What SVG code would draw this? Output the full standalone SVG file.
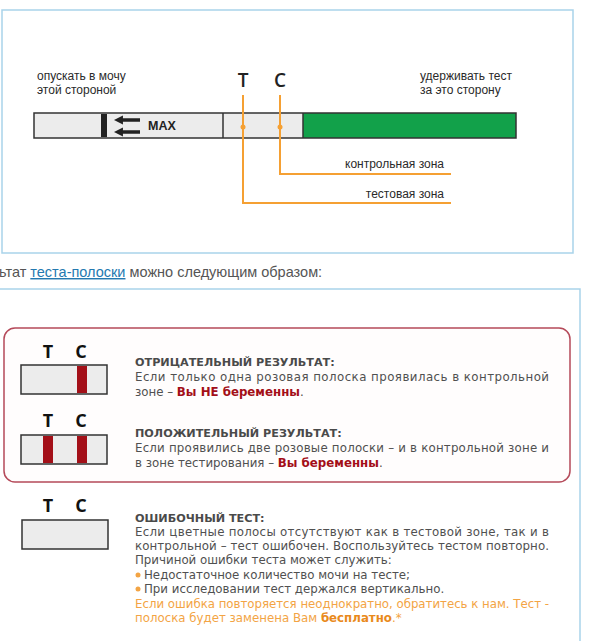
<svg xmlns="http://www.w3.org/2000/svg" width="596" height="641" viewBox="0 0 596 641">
<defs>
<style>
.frame{fill:none;stroke:#a9d3ea;stroke-width:1.5}
.lbl{font-family:"Liberation Sans Narrow","Liberation Sans",Arial,sans-serif;font-size:12px;fill:#2a2a2a}
.tc{font-family:"Open Sans","Liberation Sans",sans-serif;font-size:19px;font-weight:600;fill:#222}
.tc2{font-family:"Open Sans","Liberation Sans",sans-serif;font-size:18px;font-weight:700;fill:#111}
.or{fill:none;stroke:#f5a033;stroke-width:2}
.strip{fill:#ececec;stroke:#333;stroke-width:1.5}
.bar{fill:#a30f18}
.body{font-family:"DejaVu Sans",Verdana,sans-serif;font-size:11.8px;fill:#505050}
.ttl{font-family:"DejaVu Sans",Verdana,sans-serif;font-size:11.2px;font-weight:bold;fill:#4a4a4a}
.red{font-weight:bold;fill:#a30f18}
.org{fill:#f3a444}
.cap{font-family:Arial,"Liberation Sans",sans-serif;font-size:14.5px;fill:#555}
</style>
<marker id="ah" viewBox="0 0 10 10" refX="1" refY="5" markerWidth="2.6" markerHeight="2.6" orient="auto-start-reverse">
<path d="M0,0 L10,5 L0,10 z" fill="#222"/>
</marker>
</defs>

<!-- top panel -->
<g id="top-panel">
<rect class="frame" x="2" y="10" width="571" height="243"/>
</g>

<g id="label-dip">
<text class="lbl" x="37" y="80">опускать в мочу</text>
<text class="lbl" x="37" y="94">этой стороной</text>
</g>
<g id="label-hold">
<text class="lbl" x="420" y="80">удерживать тест</text>
<text class="lbl" x="420" y="94">за это сторону</text>
</g>
<g id="label-TC">
<text class="tc" x="243" y="87" text-anchor="middle">T</text>
<text class="tc" x="280" y="87" text-anchor="middle">C</text>
</g>

<g id="strip">
<rect x="34" y="113" width="269" height="25" fill="#ececec"/>
<rect x="303" y="113" width="213" height="25" fill="#12a14a"/>
<rect x="34" y="113" width="482" height="25" fill="none" stroke="#333" stroke-width="1.5"/>
<line x1="223" y1="113" x2="223" y2="138" stroke="#333" stroke-width="1.5"/>
<line x1="303" y1="113" x2="303" y2="138" stroke="#333" stroke-width="1.5"/>
<rect x="101" y="114" width="6" height="23" fill="#222"/>
<line x1="140" y1="120" x2="122" y2="120" stroke="#222" stroke-width="3.5" marker-end="url(#ah)"/>
<line x1="140" y1="132" x2="122" y2="132" stroke="#222" stroke-width="3.5" marker-end="url(#ah)"/>
<text x="148" y="130" font-family="'Liberation Sans',Arial,sans-serif" font-size="12.5" font-weight="bold" fill="#222">MAX</text>
</g>

<g id="connectors">
<path class="or" d="M243,95 V203 H451"/>
<path class="or" d="M280,95 V174 H451"/>
<circle cx="243" cy="127" r="2.5" fill="#f5a033"/>
<circle cx="280" cy="127" r="2.5" fill="#f5a033"/>
</g>
<g id="label-control">
<text class="lbl" x="444" y="168" text-anchor="end">контрольная зона</text>
</g>
<g id="label-test">
<text class="lbl" x="444" y="198" text-anchor="end">тестовая зона</text>
</g>

<!-- caption -->
<g id="caption">
<text class="cap" x="-1" y="277">ьтат <tspan fill="#2479b0" text-decoration="underline">теста-полоски</tspan> можно следующим образом:</text>
</g>

<!-- bottom panel -->
<g id="bottom-panel">
<rect class="frame" x="-2" y="289" width="582" height="360"/>
<rect x="4" y="328" width="566" height="154" rx="11" fill="#fffdfd" stroke="#b54a5a" stroke-width="1.5"/>
</g>

<g id="negative">
<text class="tc2" x="48" y="358" text-anchor="middle">T</text>
<text class="tc2" x="81" y="358" text-anchor="middle">C</text>
<rect class="strip" x="21" y="365" width="86" height="29"/>
<rect class="bar" x="77" y="366" width="10" height="27"/>
<text class="ttl" x="135" y="366">ОТРИЦАТЕЛЬНЫЙ РЕЗУЛЬТАТ:</text>
<text class="body" x="135" y="381" textLength="414" lengthAdjust="spacing">Если только одна розовая полоска проявилась в контрольной</text>
<text class="body" x="135" y="396">зоне – <tspan class="red">Вы НЕ беременны</tspan>.</text>
</g>

<g id="positive">
<text class="tc2" x="48" y="427" text-anchor="middle">T</text>
<text class="tc2" x="81" y="427" text-anchor="middle">C</text>
<rect class="strip" x="21" y="435" width="86" height="29"/>
<rect class="bar" x="43" y="436" width="10" height="27"/>
<rect class="bar" x="77" y="436" width="10" height="27"/>
<text class="ttl" x="135" y="437">ПОЛОЖИТЕЛЬНЫЙ РЕЗУЛЬТАТ:</text>
<text class="body" x="135" y="452" textLength="414" lengthAdjust="spacing">Если проявились две розовые полоски – и в контрольной зоне и</text>
<text class="body" x="135" y="467">в зоне тестирования – <tspan class="red">Вы беременны</tspan>.</text>
</g>

<g id="invalid">
<text class="tc2" x="48" y="512" text-anchor="middle">T</text>
<text class="tc2" x="81" y="512" text-anchor="middle">C</text>
<rect class="strip" x="22" y="520" width="86" height="29"/>
<text class="ttl" x="135" y="522">ОШИБОЧНЫЙ ТЕСТ:</text>
<text class="body" x="135" y="536" textLength="414" lengthAdjust="spacing">Если цветные полосы отсутствуют как в тестовой зоне, так и в</text>
<text class="body" x="135" y="550" textLength="414" lengthAdjust="spacing">контрольной – тест ошибочен. Воспользуйтесь тестом повторно.</text>
<text class="body" x="135" y="564">Причиной ошибки теста может служить:</text>
<circle cx="138" cy="575" r="2.5" fill="#f3a444"/>
<text class="body" x="144" y="579">Недостаточное количество мочи на тесте;</text>
<circle cx="138" cy="589" r="2.5" fill="#f3a444"/>
<text class="body" x="144" y="593">При исследовании тест держался вертикально.</text>
<text class="body org" x="135" y="608" textLength="414" lengthAdjust="spacing">Если ошибка повторяется неоднократно, обратитесь к нам. Тест -</text>
<text class="body org" x="135" y="622">полоска будет заменена Вам <tspan font-weight="bold" fill="#e98a1c">бесплатно</tspan>.*</text>
</g>
</svg>
